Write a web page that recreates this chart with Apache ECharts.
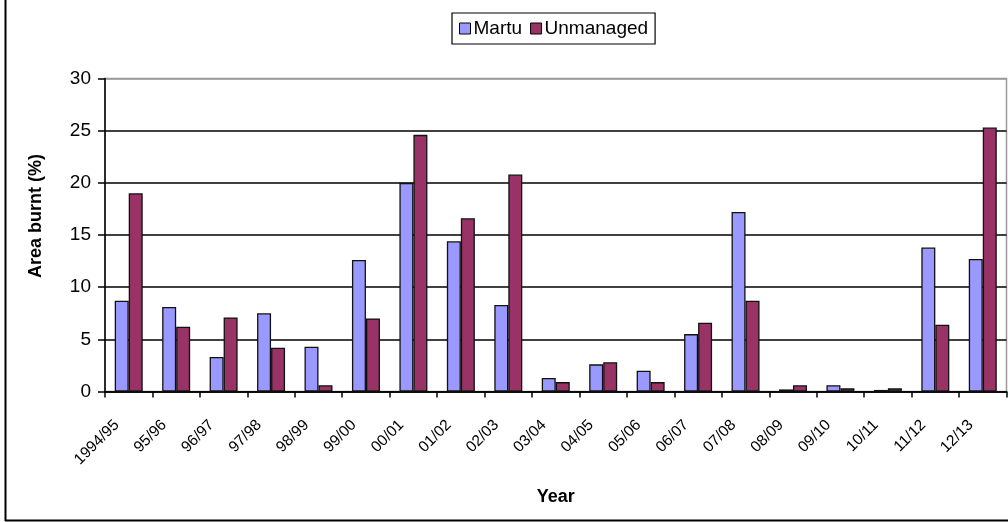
<!DOCTYPE html>
<html>
<head>
<meta charset="utf-8">
<script src="https://cdn.jsdelivr.net/npm/echarts@6/dist/echarts.min.js"></script>
<style>
html,body{margin:0;padding:0;background:#fff;}
#chart{width:1008px;height:522px;}
</style>
</head>
<body>
<div id="chart"></div>
<script>
const categories = ['1994/95','95/96','96/97','97/98','98/99','99/00','00/01','01/02','02/03','03/04','04/05','05/06','06/07','07/08','08/09','09/10','10/11','11/12','12/13'];
const martu = [8.7, 8.1, 3.3, 7.5, 4.3, 12.6, 20.0, 14.4, 8.3, 1.3, 2.6, 2.0, 5.5, 17.2, 0.2, 0.6, 0.15, 13.8, 12.7];
const unmanaged = [19.0, 6.2, 7.1, 4.2, 0.6, 7.0, 24.6, 16.6, 20.8, 0.9, 2.8, 0.9, 6.6, 8.7, 0.6, 0.3, 0.3, 6.4, 25.3];
const yTicks = [0, 5, 10, 15, 20, 25, 30];

const chart = echarts.init(document.getElementById('chart'), null, {renderer: 'canvas'});
const font = 'Liberation Sans, Arial, sans-serif';
chart.setOption({
  backgroundColor: '#fff',
  animation: false,
  textStyle: {fontFamily: font},
  graphic: [
    {type: 'line', shape: {x1: 5.5, y1: 0, x2: 5.5, y2: 521}, style: {stroke: '#000', lineWidth: 2}},
    {type: 'line', shape: {x1: 5, y1: 520.5, x2: 1008, y2: 520.5}, style: {stroke: '#000', lineWidth: 2}}
  ],
  legend: {
    left: 452, top: 13,
    data: ['Martu', 'Unmanaged'],
    icon: 'rect',
    borderColor: '#000', borderWidth: 1.2, padding: [6, 7, 6, 7],
    itemWidth: 11, itemHeight: 11, itemGap: 8,
    itemStyle: {borderColor: '#000', borderWidth: 1},
    textStyle: {fontSize: 19, color: '#000', fontFamily: font, padding: [0, 0, 0, -2]}
  },
  grid: {
    left: 105, right: 1.5, top: 78.5, bottom: 130.5,
    show: true, borderColor: '#999', borderWidth: 1.5, backgroundColor: 'transparent'
  },
  xAxis: {
    type: 'category',
    data: categories,
    boundaryGap: true,
    name: 'Year',
    nameLocation: 'middle',
    nameGap: 97,
    nameTextStyle: {fontSize: 18, fontWeight: 'bold', color: '#000', fontFamily: font},
    axisLine: {show: true, lineStyle: {color: '#000', width: 1.5}},
    axisTick: {show: true, alignWithLabel: false, interval: 0, length: 6, lineStyle: {color: '#000', width: 1.5}},
    axisLabel: {interval: 0, rotate: 45, margin: 19, padding: [0, 17, 0, 0], fontSize: 15.5, color: '#000', fontFamily: font}
  },
  yAxis: {
    type: 'value',
    min: 0, max: 30, interval: 5,
    name: 'Area burnt (%)',
    nameLocation: 'middle',
    nameRotate: 90,
    nameGap: 60,
    nameTextStyle: {fontSize: 18, fontWeight: 'bold', color: '#000', fontFamily: font, padding: [0, 0, 0, 38]},
    axisLine: {show: true, lineStyle: {color: '#000', width: 1.5}},
    axisTick: {show: true, length: 7, lineStyle: {color: '#000', width: 1.5}},
    axisLabel: {margin: 14, fontSize: 19, color: '#000', fontFamily: font,
      formatter: function (v) { return yTicks.indexOf(v) >= 0 ? String(v) : ''; }},
    splitLine: {show: true, lineStyle: {color: ['#000','#000','#000','#000','#000','#000','#999'], width: 1.5}}
  },
  series: [
    {name: 'Martu', type: 'bar', data: martu, barWidth: 14, barGap: '0%',
     itemStyle: {color: '#9999FF', borderColor: '#111', borderWidth: 1.3}},
    {name: 'Unmanaged', type: 'bar', data: unmanaged, barWidth: 14, barGap: '0%',
     itemStyle: {color: '#993366', borderColor: '#111', borderWidth: 1.3}}
  ]
});
</script>
</body>
</html>
